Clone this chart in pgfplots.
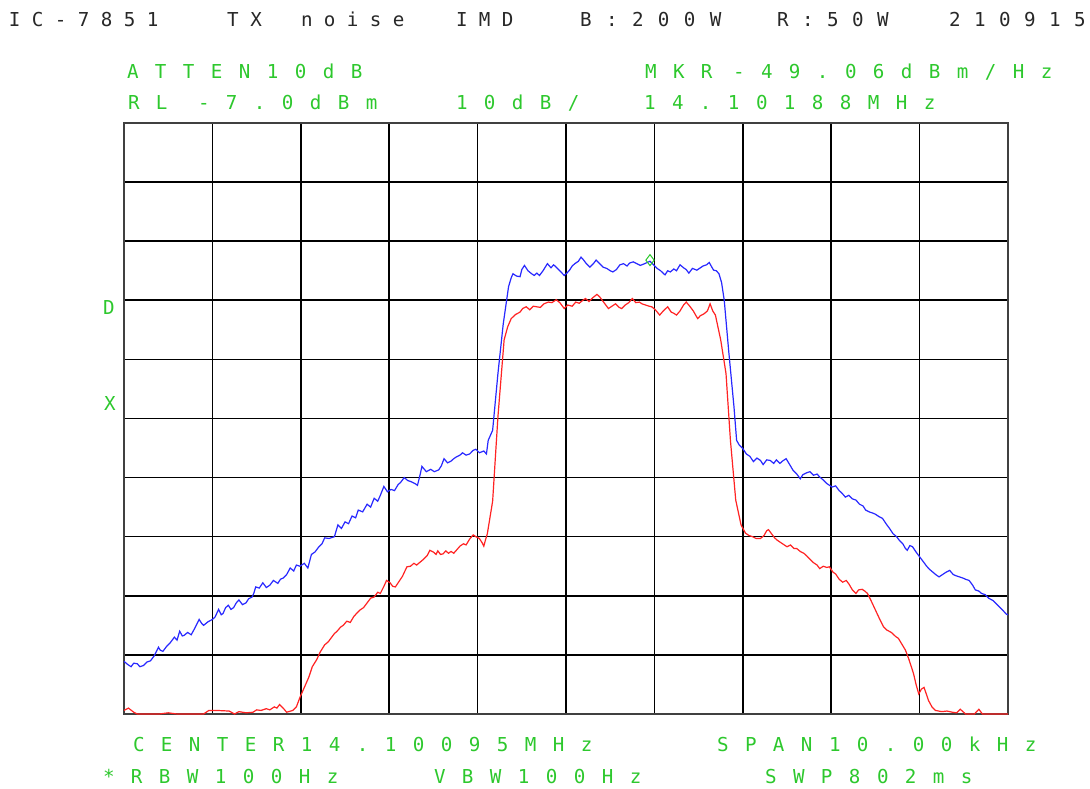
\documentclass[border=0pt]{standalone}
\usepackage{pgfplots}
\pgfplotsset{compat=1.18}
\usepackage{fontspec}
\newfontfamily\monof{DejaVu Sans Mono}
\definecolor{sagreen}{RGB}{45,200,45}
\definecolor{satitle}{RGB}{40,40,40}
\definecolor{trblue}{RGB}{40,40,255}
\definecolor{trred}{RGB}{255,35,35}
\newlength\pitch
\def\spc#1{\spcloop#1\relax}
\def\spcloop#1{\ifx\relax#1\else\makebox[\pitch][l]{#1}\expandafter\spcloop\fi}
\newcommand\gtxt[3]{\node[anchor=base west,inner sep=0pt,outer sep=0pt,text=sagreen,font=\monof\fontsize{19.2}{20}\selectfont] at (#1pt,#2pt) {\setlength\pitch{28pt}\spc{#3}};}
\newcommand\ttxt[3]{\node[anchor=base west,inner sep=0pt,outer sep=0pt,text=satitle,font=\monof\fontsize{19.2}{20}\selectfont] at (#1pt,762pt) {\setlength\pitch{#2pt}\spc{#3}};}
\begin{document}
\begin{tikzpicture}
\fill[white] (0,0) rectangle (1090pt,789pt);
\useasboundingbox (0,0) rectangle (1090pt,789pt);
\begin{axis}[
  at={(124pt,75pt)}, anchor=south west,
  width=884pt, height=591pt, scale only axis,
  xmin=0, xmax=10, ymin=0, ymax=10,
  xtick={0,1,...,10}, ytick={0,1,...,10},
  xticklabels={}, yticklabels={},
  major tick length=0pt,
  grid=major,
  major grid style={black, line width=1.6pt},
  axis line style={black!75, line width=2pt},
  clip=false,
]
% blue trace (divisions; y: 10 dB/div, top = -7 dBm; x: 1 kHz/div, centre 14.10095 MHz)
\addplot[trblue, line width=1.2pt] coordinates {
(0.00,0.89) (0.04,0.84) (0.08,0.80) (0.11,0.86) (0.15,0.85) (0.18,0.80) (0.22,0.82) (0.26,0.88)
(0.30,0.90) (0.34,0.98) (0.39,1.13) (0.41,1.08) (0.44,1.06) (0.48,1.14) (0.52,1.20) (0.57,1.30)
(0.60,1.25) (0.63,1.40) (0.66,1.32) (0.68,1.33) (0.72,1.38) (0.76,1.34) (0.80,1.45) (0.85,1.60)
(0.88,1.53) (0.90,1.50) (0.95,1.56) (1.00,1.60) (1.03,1.64) (1.07,1.77) (1.10,1.68) (1.12,1.70)
(1.15,1.80) (1.18,1.84) (1.21,1.77) (1.24,1.80) (1.27,1.88) (1.30,1.93) (1.34,1.85) (1.38,1.88)
(1.41,1.95) (1.45,1.98) (1.47,2.05) (1.49,2.15) (1.53,2.13) (1.57,2.22) (1.61,2.14) (1.65,2.18)
(1.69,2.26) (1.74,2.21) (1.77,2.28) (1.80,2.30) (1.84,2.36) (1.88,2.47) (1.92,2.42) (1.95,2.52)
(1.99,2.50) (2.04,2.55) (2.08,2.47) (2.12,2.70) (2.16,2.74) (2.20,2.82) (2.24,2.88) (2.27,2.98)
(2.32,2.97) (2.38,3.00) (2.42,3.20) (2.46,3.14) (2.50,3.25) (2.54,3.22) (2.58,3.35) (2.62,3.32)
(2.65,3.45) (2.70,3.42) (2.75,3.55) (2.79,3.50) (2.83,3.65) (2.87,3.60) (2.90,3.70) (2.94,3.85)
(2.98,3.76) (3.02,3.80) (3.06,3.78) (3.10,3.88) (3.13,3.92) (3.17,4.00) (3.21,3.95) (3.25,3.93)
(3.29,3.90) (3.32,3.87) (3.35,4.05) (3.37,4.19) (3.42,4.10) (3.47,4.14) (3.51,4.10) (3.56,4.13)
(3.59,4.20) (3.62,4.32) (3.66,4.25) (3.70,4.28) (3.73,4.32) (3.76,4.35) (3.80,4.38) (3.83,4.42)
(3.87,4.38) (3.91,4.40) (3.95,4.46) (3.98,4.48) (4.02,4.42) (4.07,4.45) (4.10,4.40) (4.12,4.63)
(4.17,4.80) (4.23,5.76) (4.29,6.60) (4.35,7.23) (4.38,7.38) (4.40,7.45) (4.44,7.41) (4.48,7.40)
(4.50,7.52) (4.53,7.59) (4.57,7.50) (4.61,7.45) (4.64,7.42) (4.67,7.46) (4.70,7.42) (4.74,7.50)
(4.79,7.62) (4.83,7.55) (4.86,7.60) (4.89,7.56) (4.93,7.50) (4.98,7.42) (5.01,7.46) (5.04,7.51)
(5.07,7.58) (5.10,7.62) (5.14,7.66) (5.17,7.73) (5.20,7.68) (5.23,7.62) (5.27,7.56) (5.31,7.62)
(5.34,7.68) (5.38,7.62) (5.42,7.56) (5.46,7.54) (5.50,7.50) (5.53,7.48) (5.57,7.52) (5.61,7.60)
(5.65,7.62) (5.69,7.58) (5.72,7.63) (5.76,7.65) (5.80,7.62) (5.84,7.59) (5.89,7.62) (5.95,7.66)
(5.99,7.60) (6.03,7.54) (6.07,7.50) (6.12,7.43) (6.15,7.50) (6.18,7.48) (6.22,7.53) (6.25,7.50)
(6.29,7.60) (6.33,7.55) (6.36,7.52) (6.39,7.46) (6.43,7.54) (6.48,7.51) (6.52,7.55) (6.55,7.58)
(6.59,7.60) (6.62,7.64) (6.65,7.56) (6.67,7.51) (6.70,7.50) (6.73,7.45) (6.76,7.30) (6.79,7.00)
(6.84,6.15) (6.90,5.20) (6.93,4.63) (6.96,4.55) (7.00,4.49) (7.04,4.40) (7.08,4.36) (7.12,4.27)
(7.16,4.33) (7.20,4.29) (7.23,4.22) (7.27,4.30) (7.31,4.29) (7.35,4.24) (7.38,4.30) (7.42,4.24)
(7.45,4.28) (7.49,4.32) (7.53,4.22) (7.57,4.12) (7.61,4.06) (7.65,3.98) (7.68,4.05) (7.72,4.08)
(7.76,4.10) (7.80,4.04) (7.84,4.06) (7.87,4.01) (7.91,3.96) (7.95,3.90) (8.01,3.84) (8.05,3.86)
(8.09,3.78) (8.12,3.74) (8.16,3.67) (8.20,3.70) (8.24,3.64) (8.28,3.62) (8.32,3.55) (8.36,3.52)
(8.39,3.45) (8.43,3.42) (8.47,3.40) (8.50,3.38) (8.54,3.34) (8.58,3.31) (8.62,3.22) (8.66,3.14)
(8.70,3.05) (8.74,3.00) (8.77,2.94) (8.81,2.88) (8.84,2.80) (8.86,2.77) (8.89,2.85) (8.92,2.83)
(8.96,2.74) (9.00,2.66) (9.04,2.58) (9.08,2.50) (9.11,2.45) (9.15,2.40) (9.19,2.35) (9.22,2.32)
(9.26,2.36) (9.30,2.40) (9.34,2.43) (9.38,2.36) (9.41,2.34) (9.45,2.32) (9.49,2.30) (9.52,2.28)
(9.56,2.26) (9.60,2.18) (9.63,2.10) (9.67,2.08) (9.70,2.04) (9.74,2.02) (9.78,1.96) (9.83,1.92)
(9.87,1.86) (9.91,1.80) (9.95,1.74) (9.98,1.69) (10.00,1.68)
};
% red trace
\addplot[trred, line width=1.2pt] coordinates {
(0.00,0.06) (0.05,0.10) (0.11,0.03) (0.15,0.00) (0.40,0.00) (0.50,0.02) (0.60,0.00) (0.90,0.00)
(0.96,0.06) (1.05,0.06) (1.19,0.05) (1.25,0.00) (1.30,0.04) (1.38,0.02) (1.46,0.03) (1.50,0.07)
(1.55,0.06) (1.61,0.09) (1.65,0.07) (1.70,0.12) (1.73,0.10) (1.76,0.16) (1.80,0.10) (1.84,0.03)
(1.91,0.06) (1.95,0.12) (1.99,0.28) (2.04,0.45) (2.09,0.62) (2.13,0.80) (2.18,0.92) (2.22,1.05)
(2.27,1.17) (2.31,1.22) (2.35,1.30) (2.38,1.36) (2.41,1.40) (2.45,1.47) (2.48,1.50) (2.52,1.57)
(2.56,1.55) (2.60,1.65) (2.63,1.70) (2.67,1.76) (2.71,1.80) (2.75,1.88) (2.79,1.96) (2.83,1.98)
(2.87,2.06) (2.90,2.04) (2.94,2.16) (2.97,2.26) (3.01,2.22) (3.04,2.16) (3.07,2.15) (3.11,2.24)
(3.15,2.33) (3.20,2.49) (3.24,2.50) (3.28,2.55) (3.31,2.52) (3.35,2.57) (3.39,2.62) (3.43,2.68)
(3.46,2.77) (3.50,2.74) (3.53,2.70) (3.55,2.76) (3.58,2.70) (3.61,2.71) (3.64,2.76) (3.67,2.72)
(3.70,2.75) (3.73,2.72) (3.76,2.77) (3.80,2.84) (3.84,2.88) (3.87,2.86) (3.91,2.96) (3.95,3.03)
(3.98,3.00) (4.02,2.97) (4.05,2.90) (4.07,2.84) (4.09,2.95) (4.11,3.05) (4.17,3.60) (4.23,5.03)
(4.30,6.33) (4.34,6.55) (4.38,6.69) (4.43,6.76) (4.48,6.80) (4.51,6.86) (4.55,6.89) (4.59,6.84)
(4.63,6.90) (4.67,6.89) (4.71,6.88) (4.75,6.94) (4.80,6.97) (4.84,6.96) (4.89,7.01) (4.93,6.96)
(4.96,6.90) (4.98,6.86) (5.02,6.92) (5.07,6.90) (5.11,6.97) (5.15,6.95) (5.19,7.00) (5.22,7.03)
(5.26,6.98) (5.30,7.04) (5.35,7.10) (5.38,7.06) (5.41,7.00) (5.44,6.94) (5.48,6.86) (5.52,6.90)
(5.56,6.94) (5.60,6.88) (5.63,6.86) (5.67,6.92) (5.71,6.96) (5.75,7.03) (5.79,6.96) (5.83,6.97)
(5.86,6.94) (5.90,6.92) (5.94,6.90) (5.97,6.89) (6.01,6.84) (6.06,6.75) (6.10,6.82) (6.15,6.89)
(6.19,6.80) (6.22,6.78) (6.25,6.75) (6.29,6.82) (6.33,6.92) (6.36,6.97) (6.40,6.90) (6.44,6.82)
(6.47,6.74) (6.49,6.69) (6.52,6.74) (6.56,6.77) (6.60,6.82) (6.63,6.94) (6.66,6.82) (6.69,6.75)
(6.75,6.33) (6.81,5.76) (6.86,4.63) (6.92,3.62) (6.98,3.20) (7.03,3.06) (7.07,3.02) (7.11,3.00)
(7.15,2.97) (7.20,2.97) (7.24,3.02) (7.27,3.10) (7.29,3.12) (7.33,3.04) (7.36,2.98) (7.39,2.94)
(7.43,2.90) (7.47,2.86) (7.50,2.83) (7.54,2.86) (7.58,2.80) (7.61,2.80) (7.65,2.75) (7.69,2.72)
(7.72,2.68) (7.76,2.62) (7.80,2.56) (7.84,2.52) (7.87,2.46) (7.91,2.50) (7.95,2.48) (7.98,2.49)
(8.02,2.40) (8.05,2.37) (8.09,2.28) (8.13,2.23) (8.17,2.26) (8.20,2.20) (8.24,2.10) (8.28,2.04)
(8.31,2.10) (8.35,2.11) (8.38,2.08) (8.41,2.04) (8.45,1.92) (8.50,1.76) (8.55,1.60) (8.59,1.48)
(8.63,1.42) (8.68,1.38) (8.73,1.31) (8.76,1.28) (8.80,1.18) (8.84,1.08) (8.88,0.92) (8.93,0.69)
(8.96,0.50) (8.99,0.34) (9.02,0.42) (9.05,0.45) (9.08,0.32) (9.10,0.23) (9.14,0.12) (9.18,0.06)
(9.25,0.04) (9.31,0.05) (9.37,0.03) (9.42,0.02) (9.46,0.08) (9.49,0.04) (9.52,0.00) (9.62,0.00)
(9.67,0.08) (9.69,0.04) (9.71,0.00) (10.00,0.00)
};
% marker
\addplot[sagreen, only marks, mark=diamond, mark size=5.5pt, mark options={line width=1pt}] coordinates {(5.95,7.68)};
\end{axis}
% title
\ttxt{9}{23}{IC-7851}
\ttxt{227}{23.5}{TX}
\ttxt{301}{23}{noise}
\ttxt{456}{23}{IMD}
\ttxt{580}{26}{B:200W}
\ttxt{777}{25}{R:50W}
\ttxt{949}{25}{210915}
% header lines
\gtxt{127}{710}{ATTEN10dB}
\gtxt{645}{710}{MKR}
\gtxt{733}{710}{-49.06dBm/Hz}
\gtxt{128}{679}{RL}
\gtxt{198}{679}{-7.0dBm}
\gtxt{456}{679}{10dB/}
\gtxt{644}{679}{14.10188MHz}
% side marks
\node[anchor=base,inner sep=0pt,text=sagreen,font=\monof\fontsize{19.2}{20}\selectfont] at (109pt,474pt) {D};
\node[anchor=base,inner sep=0pt,text=sagreen,font=\monof\fontsize{19.2}{20}\selectfont] at (110pt,378pt) {X};
% footer lines
\gtxt{133}{37}{CENTER14.10095MHz}
\gtxt{717}{37}{SPAN10.00kHz}
\gtxt{103}{5}{*RBW100Hz}
\gtxt{434}{5}{VBW100Hz}
\gtxt{765}{5}{SWP802ms}
\end{tikzpicture}
\end{document}
